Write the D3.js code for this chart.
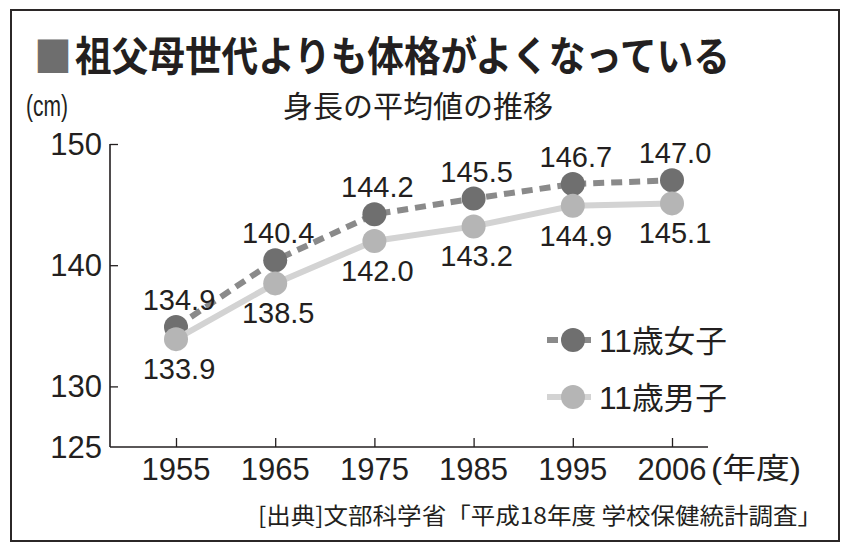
<!DOCTYPE html>
<html><head><meta charset="utf-8">
<script src="https://cdn.jsdelivr.net/npm/d3@7"></script>
<style>
html,body{margin:0;padding:0;background:#fff;}
svg{display:block;}
text{fill:#231f20;}
</style></head>
<body>
<script>
// ---- data ----
const years = ["1955","1965","1975","1985","1995","2006"];
const girls = [134.9, 140.4, 144.2, 145.5, 146.7, 147.0];
const boys  = [133.9, 138.5, 142.0, 143.2, 144.9, 145.1];
const yTicks = [125, 130, 140, 150];
const seriesNames = ["11歳女子", "11歳男子"];
const titleMark = "■";
const titleText = "祖父母世代よりも体格がよくなっている";
const subtitleText = "身長の平均値の推移";
const unitText = "(cm)";
const xUnitText = "(年度)";
const sourceText = "[出典]文部科学省「平成18年度 学校保健統計調査」";

const W = 850, H = 551;
const NUM = "'Liberation Sans','Noto Sans CJK JP',sans-serif";
const CJK = "'Noto Sans CJK JP',sans-serif";

const svg = d3.select("body").append("svg").attr("width", W).attr("height", H);

// frame
svg.append("rect").attr("x", 11).attr("y", 10).attr("width", 828).attr("height", 531)
  .attr("fill", "none").attr("stroke", "#2b2727").attr("stroke-width", 2);

// title
svg.append("text").attr("x", 34).attr("y", 72)
  .attr("font-family", CJK).attr("font-weight", 700).attr("font-size", 42)
  .attr("textLength", 38).attr("lengthAdjust", "spacingAndGlyphs")
  .style("fill", "#6e6e6e").text(titleMark);
svg.append("text").attr("x", 75).attr("y", 71)
  .attr("font-family", CJK).attr("font-weight", 700).attr("font-size", 41)
  .attr("textLength", 655).attr("lengthAdjust", "spacingAndGlyphs")
  .text(titleText);

// subtitle
svg.append("text").attr("x", 283).attr("y", 117)
  .attr("font-family", CJK).attr("font-size", 30)
  .attr("textLength", 270).attr("lengthAdjust", "spacingAndGlyphs")
  .text(subtitleText);

// unit
svg.append("text").attr("x", 26).attr("y", 116)
  .attr("font-family", NUM).attr("font-size", 29)
  .attr("textLength", 42).attr("lengthAdjust", "spacingAndGlyphs")
  .text(unitText);

// scales
const x = d3.scalePoint().domain(years).range([176, 672]);
const y = d3.scaleLinear().domain([125, 150]).range([447, 144]);
const axisX0 = 110, axisX1 = 708;

// y axis
const gy = svg.append("g").attr("transform", `translate(${axisX0},0)`)
  .call(d3.axisRight(y).tickValues(yTicks.filter(v => v !== 125)).tickSize(8).tickFormat(""));
gy.select(".domain").remove();
gy.selectAll("line").attr("stroke", "#231f20").attr("stroke-width", 1.3);
svg.append("line").attr("x1", axisX0).attr("x2", axisX0).attr("y1", y(150)).attr("y2", y(125))
  .attr("stroke", "#231f20").attr("stroke-width", 1.6);
svg.append("g").selectAll("text").data(yTicks).join("text")
  .attr("x", 102).attr("y", d => y(d) + 11)
  .attr("text-anchor", "end").attr("font-family", NUM).attr("font-size", 31)
  .text(d => d);

// x axis
const gx = svg.append("g").attr("transform", `translate(0,${y(125)})`)
  .call(d3.axisTop(x).tickSize(9).tickFormat(""));
gx.select(".domain").remove();
gx.selectAll("line").attr("stroke", "#231f20").attr("stroke-width", 1.3);
svg.append("line").attr("x1", axisX0).attr("x2", axisX1).attr("y1", y(125)).attr("y2", y(125))
  .attr("stroke", "#231f20").attr("stroke-width", 1.6);
svg.append("g").selectAll("text").data(years).join("text")
  .attr("x", d => x(d)).attr("y", 480)
  .attr("text-anchor", "middle").attr("font-family", NUM).attr("font-size", 31)
  .text(d => d);
svg.append("text").attr("x", 711).attr("y", 479)
  .attr("font-family", NUM).attr("font-size", 29)
  .attr("textLength", 90).attr("lengthAdjust", "spacingAndGlyphs")
  .text(xUnitText);

// lines
const line = d3.line().x((d, i) => x(years[i])).y(d => y(d));
const girlsColor = "#6f6f6f", girlsLine = "#8a8a8a";
const boysColor = "#b5b5b5", boysLine = "#d3d3d3";

svg.append("path").datum(girls).attr("d", line).attr("fill", "none")
  .attr("stroke", girlsLine).attr("stroke-width", 6).attr("stroke-dasharray", "11,7");
svg.append("g").selectAll("circle").data(girls).join("circle")
  .attr("cx", (d, i) => x(years[i])).attr("cy", d => y(d)).attr("r", 12).attr("fill", girlsColor);

svg.append("path").datum(boys).attr("d", line).attr("fill", "none")
  .attr("stroke", boysLine).attr("stroke-width", 6);
svg.append("g").selectAll("circle").data(boys).join("circle")
  .attr("cx", (d, i) => x(years[i])).attr("cy", d => y(d)).attr("r", 12).attr("fill", boysColor);

// value labels
svg.append("g").selectAll("text").data(girls).join("text")
  .attr("x", (d, i) => x(years[i]) + 3).attr("y", d => y(d) - 17)
  .attr("text-anchor", "middle").attr("font-family", NUM).attr("font-size", 29)
  .text(d => d.toFixed(1));
svg.append("g").selectAll("text").data(boys).join("text")
  .attr("x", (d, i) => x(years[i]) + 3).attr("y", d => y(d) + 40)
  .attr("text-anchor", "middle").attr("font-family", NUM).attr("font-size", 29)
  .text(d => d.toFixed(1));

// legend
const legend = [
  {name: seriesNames[0], y: 340, fill: girlsColor, stroke: girlsLine, dash: "11,7"},
  {name: seriesNames[1], y: 397, fill: boysColor, stroke: boysLine, dash: null}
];
const lg = svg.append("g").selectAll("g").data(legend).join("g");
lg.append("line").attr("x1", 547).attr("x2", 591).attr("y1", d => d.y).attr("y2", d => d.y)
  .attr("stroke", d => d.stroke).attr("stroke-width", 6)
  .attr("stroke-dasharray", d => d.dash);
lg.append("circle").attr("cx", 573).attr("cy", d => d.y).attr("r", 12).attr("fill", d => d.fill);
lg.append("text").attr("x", 599).attr("y", d => d.y + 12)
  .attr("font-family", NUM).attr("font-size", 31)
  .attr("textLength", 128).attr("lengthAdjust", "spacingAndGlyphs")
  .text(d => d.name);

// source
svg.append("text").attr("x", 822).attr("y", 524).attr("text-anchor", "end")
  .attr("font-family", CJK).attr("font-size", 23)
  .attr("textLength", 564).attr("lengthAdjust", "spacingAndGlyphs")
  .text(sourceText);
</script>
</body></html>
